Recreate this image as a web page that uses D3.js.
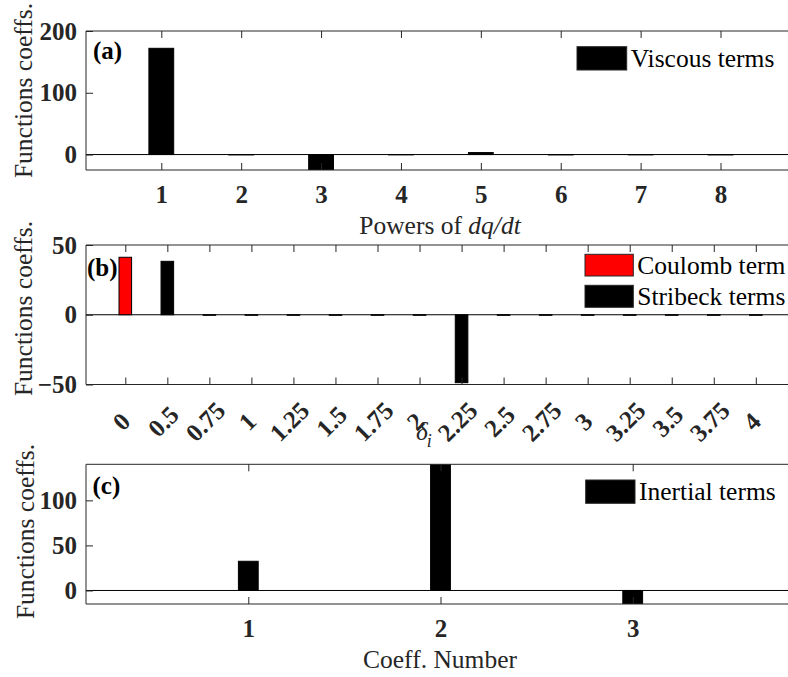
<!DOCTYPE html>
<html>
<head>
<meta charset="utf-8">
<script src="https://cdn.jsdelivr.net/npm/d3@7"></script>
<style>
  html, body { margin: 0; padding: 0; background: #fff; }
  svg { display: block; }
  #chart text { font-family: "Liberation Serif", "Times New Roman", serif; }
</style>
</head>
<body>
<svg id="chart" width="788" height="677"></svg>
<script>
// Panel (a): viscous terms, coefficient per power of dq/dt
const viscousPowers = [1, 2, 3, 4, 5, 6, 7, 8];
const viscousCoeffs = [172, -0.6, -32, -0.5, 3.2, -0.6, -0.5, -0.6];
const viscousYTicks = [0, 100, 200];

// Panel (b): Coulomb and Stribeck terms against delta_i
const deltaLabels = ["0", "0.5", "0.75", "1", "1.25", "1.5", "1.75", "2",
                     "2.25", "2.5", "2.75", "3", "3.25", "3.5", "3.75", "4"];
const coulombDelta = ["0"];
const coulombCoeffs = [41.2];
const stribeckDelta = ["0.5", "0.75", "1", "1.25", "1.5", "1.75", "2",
                       "2.25", "2.5", "2.75", "3", "3.25", "3.5", "3.75", "4"];
const stribeckCoeffs = [38.3, -0.4, -0.4, -0.4, -0.4, -0.4, -0.4,
                        -48.7, -0.4, -0.4, -0.4, -0.4, -0.4, -0.4, -0.4];
const stribeckYTicks = [-50, 0, 50];

// Panel (c): inertial terms
const inertialNumbers = [1, 2, 3];
const inertialCoeffs = [32.4, 150, -20];
const inertialYTicks = [0, 50, 100];

const svg = d3.select("#chart");
const AXIS = "#262626";
const FS = 25;
const left = 86, right = 788;

function frame(g, id, top, bottom) {
  g.append("clipPath").attr("id", id)
    .append("rect").attr("x", left).attr("y", top)
    .attr("width", right - left).attr("height", bottom - top);
}

function yAxis(g, y, ticks) {
  const ax = g.append("g").attr("transform", `translate(${left},0)`)
    .call(d3.axisLeft(y).tickValues(ticks).tickSize(-7).tickPadding(9).tickFormat(d3.format("d")));
  ax.select(".domain").remove();
  ax.selectAll("line").attr("stroke", AXIS);
  ax.selectAll("text").attr("font-size", FS).attr("font-weight", "bold").attr("fill", AXIS);
}

function xTicks(g, x, ticks, top, bottom, fmt, pad) {
  const t = g.append("g").attr("transform", `translate(0,${top})`)
    .call(d3.axisTop(x).tickValues(ticks).tickSize(-7).tickFormat(""));
  t.select(".domain").remove();
  t.selectAll("line").attr("stroke", AXIS);
  const b = g.append("g").attr("transform", `translate(0,${bottom})`)
    .call(d3.axisBottom(x).tickValues(ticks).tickSize(-7).tickPadding(pad).tickFormat(fmt));
  b.select(".domain").remove();
  b.selectAll("line").attr("stroke", AXIS);
  b.selectAll("text").attr("font-size", FS).attr("font-weight", "bold").attr("fill", AXIS);
  return b;
}

function box(g, top, bottom) {
  g.append("path")
    .attr("d", `M${right + 2},${top}H${left}V${bottom}H${right + 2}`)
    .attr("fill", "none").attr("stroke", AXIS).attr("stroke-width", 1);
}

function zeroLine(g, y) {
  g.append("line").attr("x1", left).attr("x2", right)
    .attr("y1", y(0)).attr("y2", y(0)).attr("stroke", "#000").attr("stroke-width", 1);
}

function bars(g, clipId, xs, vals, x, y, halfWidth, fill) {
  g.append("g").attr("clip-path", `url(#${clipId})`)
    .selectAll("rect").data(vals).join("rect")
    .attr("x", (d, i) => x(xs[i]) - halfWidth)
    .attr("width", halfWidth * 2)
    .attr("y", d => Math.min(y(d), y(0)))
    .attr("height", d => Math.abs(y(d) - y(0)))
    .attr("fill", fill).attr("stroke", "#000").attr("stroke-width", 1);
}

function yLabel(g, cx, cy) {
  g.append("text").attr("transform", `translate(${cx},${cy}) rotate(-90)`)
    .attr("text-anchor", "middle").attr("font-size", 25.5).attr("fill", AXIS)
    .text("Functions coeffs.");
}

function panelTag(g, txt, x, y) {
  g.append("text").attr("x", x).attr("y", y).attr("font-size", FS)
    .attr("font-weight", "bold").attr("fill", "#000").text(txt);
}

function legendEntry(g, x, y, w, h, fill, label) {
  g.append("rect").attr("x", x).attr("y", y).attr("width", w).attr("height", h)
    .attr("fill", fill).attr("stroke", "#262626").attr("stroke-width", 1);
  g.append("text").attr("x", x + w + 4).attr("y", y + h / 2 + 8.5)
    .attr("font-size", 25.5).attr("fill", "#000").text(label);
}

// ---------- (a) ----------
{
  const top = 31, bottom = 170;
  const g = svg.append("g");
  frame(g, "clipA", top, bottom);
  const x = d3.scaleLinear().domain([1, 8]).range([161.3, 720.5]);
  const y = d3.scaleLinear().domain([-25, 200]).range([bottom, top]);
  zeroLine(g, y);
  bars(g, "clipA", viscousPowers, viscousCoeffs, x, y, 12.4, "#000");
  box(g, top, bottom);
  yAxis(g, y, viscousYTicks);
  xTicks(g, x, viscousPowers, top, bottom, d3.format("d"), 15);
  yLabel(g, 32, 90.5);
  panelTag(g, "(a)", 93, 59);
  legendEntry(g, 577, 46.7, 49.7, 23.3, "#000", "Viscous terms");
  const t = g.append("text").attr("x", 440).attr("y", 234).attr("text-anchor", "middle")
    .attr("font-size", 25.5).attr("fill", AXIS);
  t.append("tspan").text("Powers of ");
  t.append("tspan").attr("font-style", "italic").text("dq/dt");
}

// ---------- (b) ----------
{
  const top = 245, bottom = 384.5;
  const g = svg.append("g");
  frame(g, "clipB", top, bottom);
  const idx = d3.scaleOrdinal().domain(deltaLabels).range(d3.range(1, deltaLabels.length + 1));
  const lin = d3.scaleLinear().domain([1, 16]).range([125.3, 755.8]);
  const x = d => lin(idx(d));
  const y = d3.scaleLinear().domain([-50, 50]).range([bottom, top]);
  zeroLine(g, y);
  bars(g, "clipB", coulombDelta, coulombCoeffs, x, y, 6.3, "#ff0000");
  bars(g, "clipB", stribeckDelta, stribeckCoeffs, x, y, 6.3, "#000");
  box(g, top, bottom);
  yAxis(g, y, stribeckYTicks);
  const b = xTicks(g, lin, d3.range(1, 17), top, bottom, i => deltaLabels[i - 1], 10);
  b.selectAll("text")
    .attr("y", null).attr("dy", null)
    .attr("text-anchor", "middle").attr("dominant-baseline", "central")
    .attr("transform", "translate(-4.5,37) rotate(-45)");
  yLabel(g, 32, 308.5);
  panelTag(g, "(b)", 87, 276);
  legendEntry(g, 585, 254.3, 48.3, 21.7, "#ff0000", "Coulomb term");
  legendEntry(g, 585, 285.3, 48.3, 22, "#000", "Stribeck terms");
  const t = g.append("text").attr("x", 416).attr("y", 440)
    .attr("font-size", 25.5).attr("fill", AXIS).attr("font-style", "italic");
  t.append("tspan").text("δ");
  t.append("tspan").attr("font-size", 18).attr("dy", 7).attr("dx", -1).text("i");
}

// ---------- (c) ----------
{
  const top = 464.3, bottom = 604;
  const g = svg.append("g");
  frame(g, "clipC", top, bottom);
  const x = d3.scaleLinear().domain([1, 3]).range([248.3, 632.7]);
  const y = d3.scaleLinear().domain([-15, 140]).range([bottom, top]);
  zeroLine(g, y);
  bars(g, "clipC", inertialNumbers, inertialCoeffs, x, y, 9.9, "#000");
  box(g, top, bottom);
  yAxis(g, y, inertialYTicks);
  xTicks(g, x, inertialNumbers, top, bottom, d3.format("d"), 15);
  yLabel(g, 34, 531.5);
  panelTag(g, "(c)", 92.5, 494);
  legendEntry(g, 585.7, 480, 49.3, 23.3, "#000", "Inertial terms");
  g.append("text").attr("x", 440).attr("y", 668).attr("text-anchor", "middle")
    .attr("font-size", 25.5).attr("fill", AXIS).text("Coeff. Number");
}
</script>
</body>
</html>
